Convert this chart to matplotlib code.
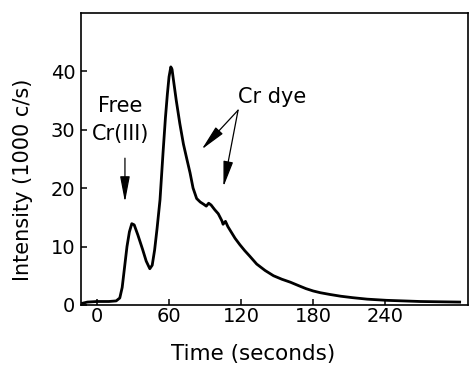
import matplotlib
matplotlib.use("Agg")
import matplotlib.pyplot as plt

# ---------------------------------------------------------------------------
# Chromatogram trace (time in s, intensity in 1000 c/s)
# ---------------------------------------------------------------------------
time_s = [-12, -8, 0, 10, 16, 19, 21, 23, 25, 27, 29, 31, 34, 38, 41, 44,
          46, 48, 50, 52.5, 55, 57, 58.6, 60, 61.5, 62.5, 64, 66, 69, 72,
          75, 77.5, 80, 83, 86, 89, 91, 93, 95, 98, 101, 104, 105, 107,
          109, 112, 115, 119, 123, 127, 133, 140, 147, 154, 161, 168, 174,
          180, 186, 194, 203, 213, 225, 241, 255, 269, 285, 302]
intensity = [0.3, 0.5, 0.6, 0.6, 0.7, 1.2, 3.0, 6.5, 10.0, 12.5, 13.9, 13.7,
             12.0, 9.5, 7.5, 6.2, 6.8, 9.4, 13.0, 18.0, 26.0, 32.0, 36.0,
             39.0, 40.7, 40.3, 38.0, 35.0, 31.0, 27.5, 24.8, 22.6, 20.0,
             18.2, 17.6, 17.2, 16.9, 17.4, 17.1, 16.3, 15.6, 14.4, 13.8,
             14.3, 13.4, 12.4, 11.4, 10.3, 9.3, 8.4, 7.0, 5.9, 5.0, 4.4, 3.9,
             3.3, 2.8, 2.4, 2.1, 1.8, 1.5, 1.25, 1.0, 0.8, 0.7, 0.6, 0.55,
             0.5]

x_ticks = [0, 60, 120, 180, 240]
y_ticks = [0, 10, 20, 30, 40]

# annotation anchors (data coords)
free_text = [("Free", 19.2, 34.0), ("Cr(III)", 20.0, 29.3)]
free_arrow = ((23.3, 25.1), (23.3, 17.6))          # (start, tip)
dye_text = ("Cr dye", 146, 35.6)
dye_start = (117.5, 33.3)
dye_tips = [(87.2, 26.6), (105.3, 20.2)]

plt.rcParams["font.family"] = "DejaVu Sans"

fig = plt.figure(figsize=(4.69, 3.68), dpi=100)
ax = fig.add_axes([0.1727, 0.1712, 0.8253, 0.7948])

ax.plot(time_s, intensity, color="black", lw=2.0, solid_joinstyle="round")

ax.set_xlim(-13.3, 309)
ax.set_ylim(0, 50)
ax.set_xticks(x_ticks)
ax.set_yticks(y_ticks)
ax.tick_params(axis="both", direction="in", length=4, width=1.1,
               labelsize=14, colors="black")
ax.tick_params(axis="x", pad=1.5)
ax.tick_params(axis="y", pad=4)
for s in ax.spines.values():
    s.set_linewidth(1.2)
    s.set_color("black")

ax.set_xlabel("Time (seconds)", fontsize=15.5)
ax.xaxis.set_label_coords(0.444, -0.135)
ax.set_ylabel("Intensity (1000 c/s)", fontsize=15)
ax.yaxis.set_label_coords(-0.124, 0.427)

arrow_kw = dict(arrowstyle="-|>,head_length=1.05,head_width=0.2",
                mutation_scale=15, color="black", lw=0.9,
                shrinkA=0, shrinkB=0)

for label, tx, ty in free_text:
    ax.text(tx, ty, label, ha="center", va="center", fontsize=15)
ax.annotate("", xy=free_arrow[1], xytext=free_arrow[0], arrowprops=arrow_kw)

ax.text(dye_text[1], dye_text[2], dye_text[0], ha="center", va="center",
        fontsize=15)
for tip in dye_tips:
    ax.annotate("", xy=tip, xytext=dye_start, arrowprops=arrow_kw)

fig.savefig("out.png", dpi=100)
